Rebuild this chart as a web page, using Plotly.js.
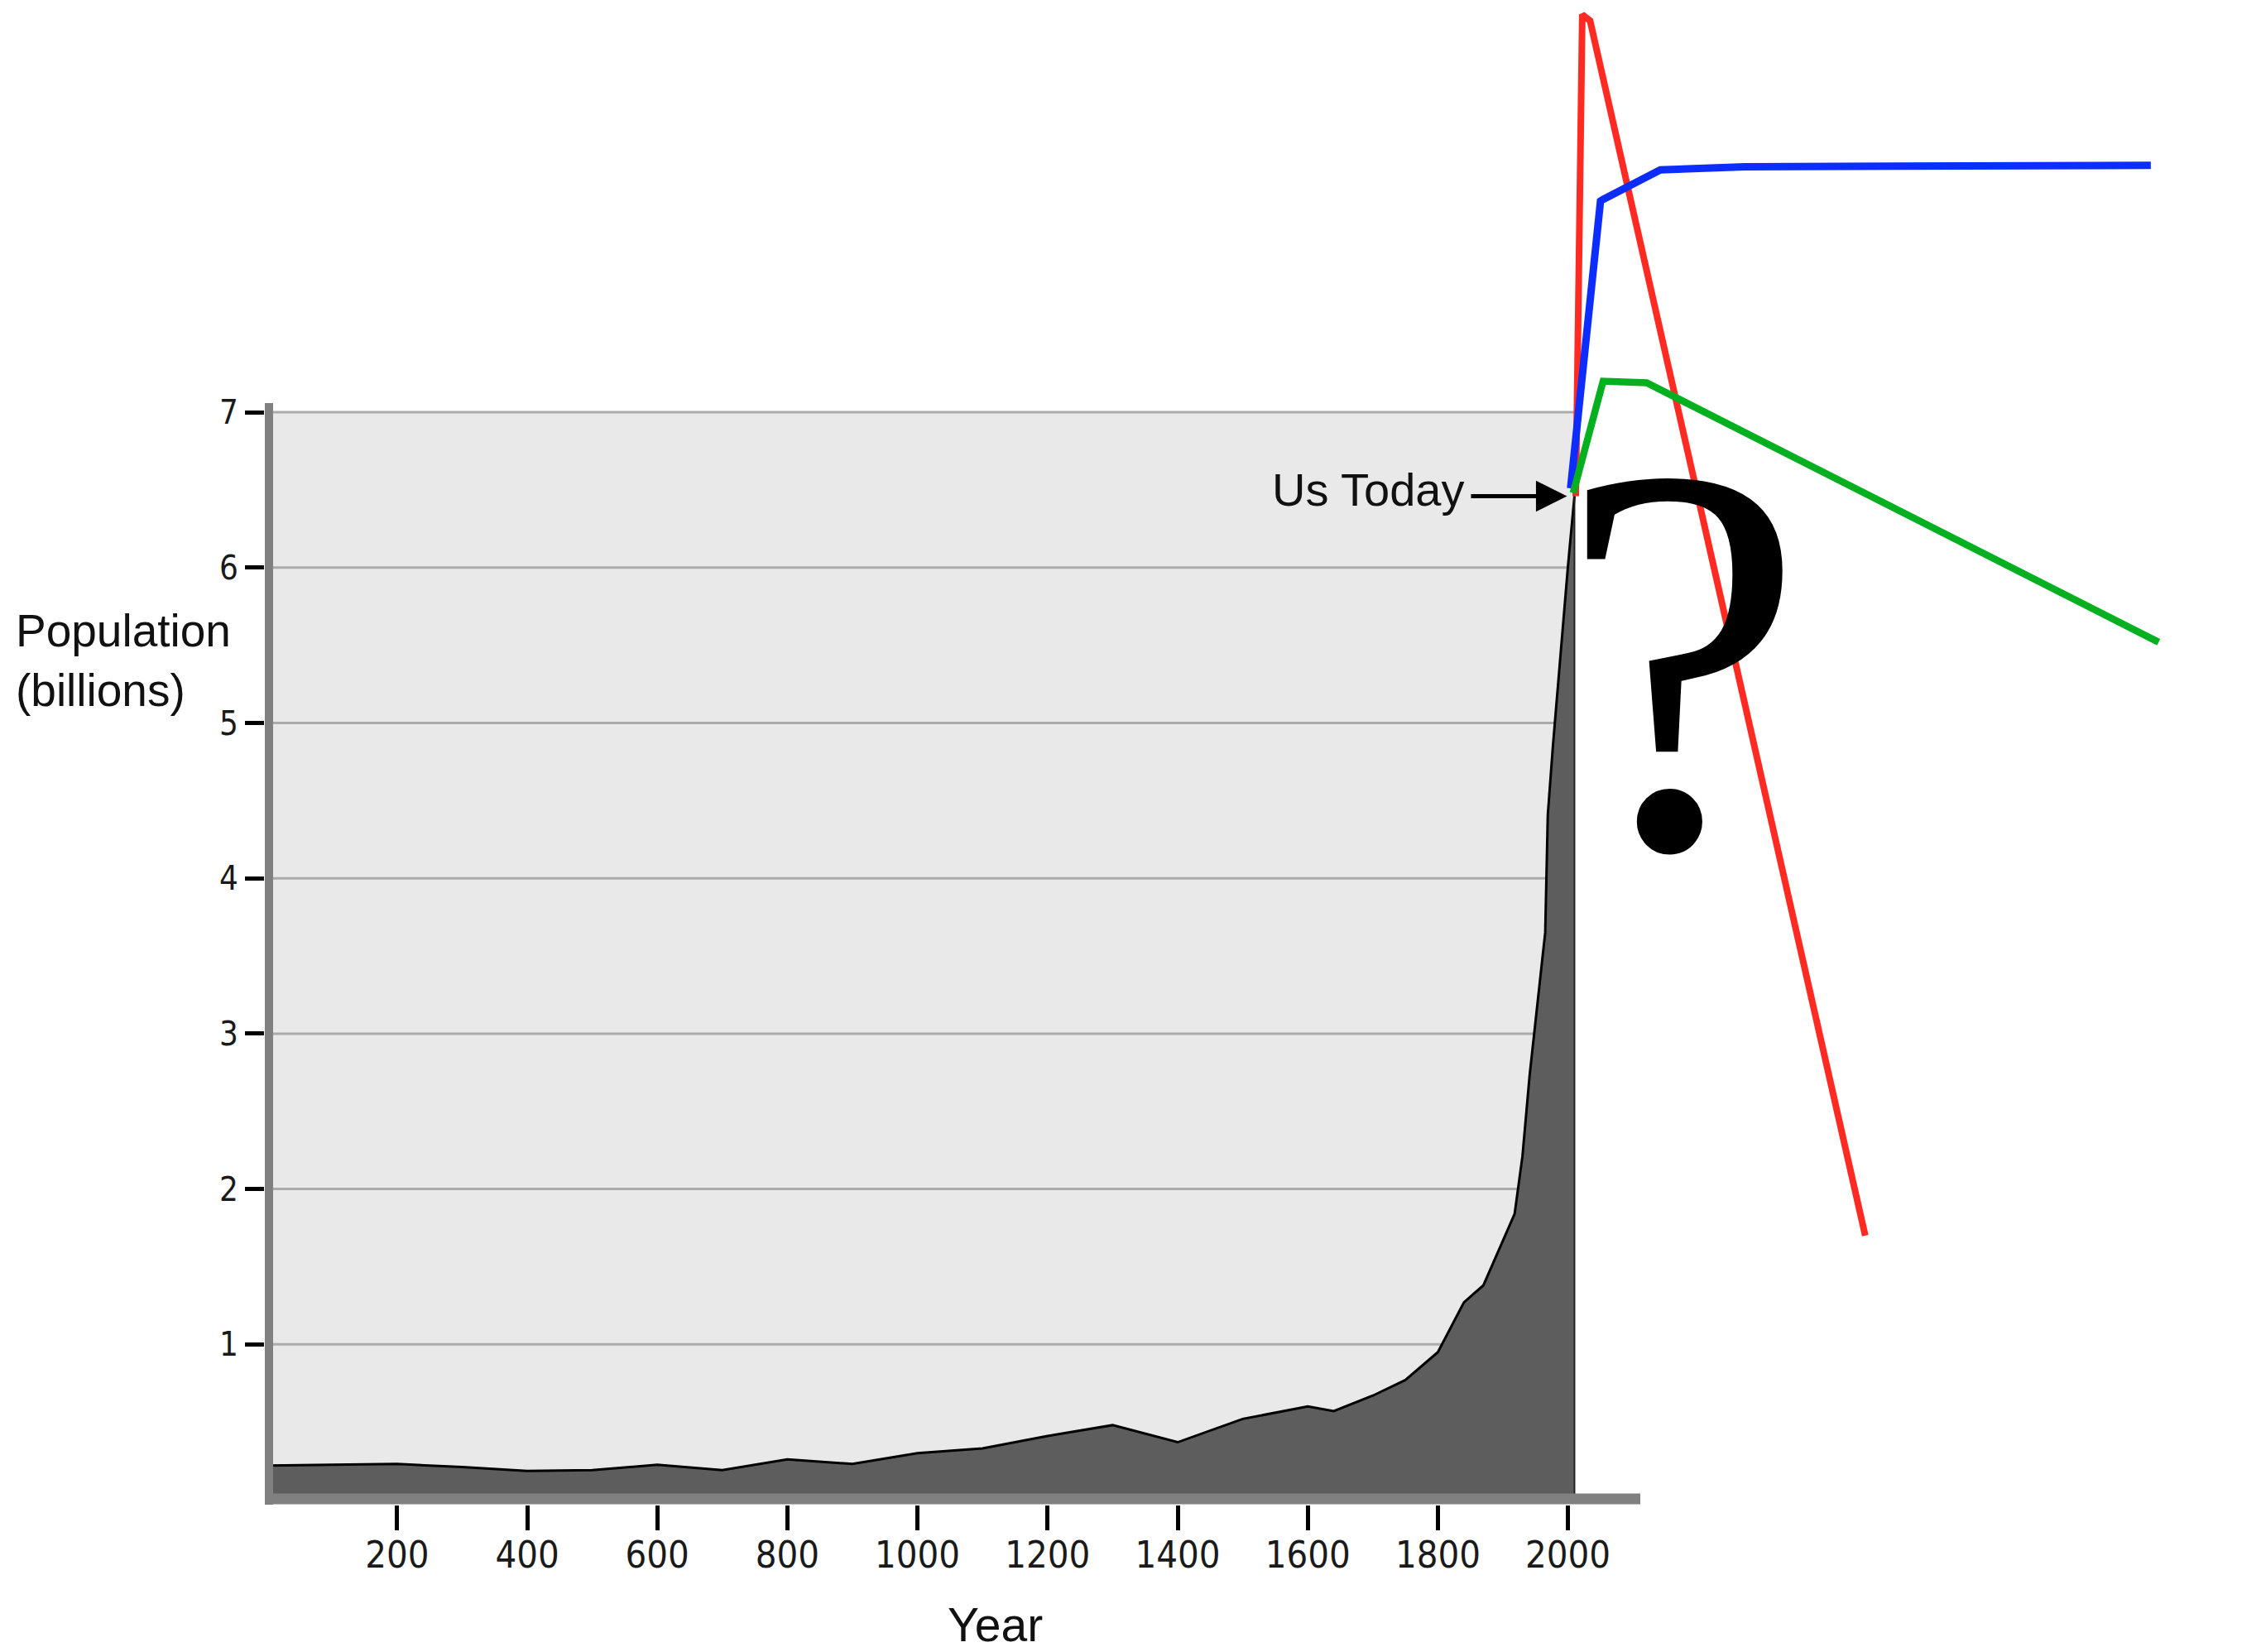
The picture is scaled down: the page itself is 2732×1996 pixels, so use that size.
<!DOCTYPE html>
<html>
<head>
<meta charset="utf-8">
<script src="https://cdn.plot.ly/plotly-3.0.1.min.js"></script>
<style>html,body{margin:0;padding:0;background:#fff;}#chart{width:2732px;height:1996px;}</style>
</head>
<body>
<div id="chart"></div>
<script>
// Historical world population (billions)
const histYears = [1, 200, 300, 400, 500, 600, 700, 800, 900, 1000, 1100, 1200, 1300, 1400, 1500, 1600, 1640, 1700, 1750, 1800, 1840, 1870, 1918, 1930, 1941, 1950, 1965, 1969, 1977, 2000, 2010];
const histPop   = [0.22, 0.23, 0.21, 0.185, 0.19, 0.225, 0.19, 0.26, 0.23, 0.30, 0.33, 0.41, 0.48, 0.37, 0.52, 0.60, 0.57, 0.67, 0.77, 0.95, 1.27, 1.38, 1.84, 2.21, 2.73, 3.08, 3.65, 4.41, 4.86, 6.01, 6.46];

// Projection scenarios
const redYears   = [2012, 2022, 2034, 2457];
const redPop     = [6.46, 9.56, 9.52, 1.70];
const blueYears  = [2004, 2050, 2054, 2142, 2272, 2896];
const bluePop    = [6.51, 8.36, 8.37, 8.56, 8.58, 8.59];
const greenYears = [2008, 2054, 2121, 2908];
const greenPop   = [6.48, 7.20, 7.19, 5.52];

// Ticks
const xTickVals = [200, 400, 600, 800, 1000, 1200, 1400, 1600, 1800, 2000];
const xTickText = ['200', '400', '600', '800', '1000', '1200', '1400', '1600', '1800', '2000'];
const yTickVals = [1, 2, 3, 4, 5, 6, 7];
const yTickText = ['1', '2', '3', '4', '5', '6', '7'];

// Labels
const yTitleText = 'Population<br>(billions)';
const xTitleText = 'Year';
const todayLabel = 'Us Today';
const questionMark = '?';

const W = 2732, H = 1996;
const pxPerYear = 0.786, x0px = 322.6;
const pxPerUnit = 187.7, y0px = 1812;
const xRange = [-x0px / pxPerYear, (W - x0px) / pxPerYear];
const yRange = [-(H - y0px) / pxPerUnit, y0px / pxPerUnit];
const yearAt = px => (px - x0px) / pxPerYear;
const valAt = py => (y0px - py) / pxPerUnit;

const nowYear = histYears[histYears.length - 1];
const nowPop = histPop[histPop.length - 1];
const topGrid = yTickVals[yTickVals.length - 1];

// font availability check via canvas measurement
const ctx = document.createElement('canvas').getContext('2d');
function hasFont(name) {
  const s = 'mmmmmmmmmmlliWW?0123456789abc';
  for (const base of ['monospace', 'serif', 'sans-serif']) {
    ctx.font = '72px ' + base;
    const w0 = ctx.measureText(s).width;
    ctx.font = '72px "' + name + '", ' + base;
    if (Math.abs(ctx.measureText(s).width - w0) > 0.5) return true;
  }
  return false;
}
function pick(list, fb) { for (const f of list) { if (hasFont(f)) return '"' + f + '"'; } return fb; }

const sans = pick(['Liberation Sans', 'Arial', 'DejaVu Sans'], 'sans-serif');
const narrow = pick(['Liberation Sans Narrow', 'Arial Narrow', 'DejaVu Sans Condensed'], sans);
const serif = pick(['Liberation Serif', 'Tinos', 'Times New Roman', 'Nimbus Roman', 'FreeSerif', 'DejaVu Serif Condensed', 'DejaVu Serif'], 'serif');

// size and place the question mark so its glyph fills the reference box
const qTop = 576, qBottom = 1033, qLeft = 1933, qRight = 2138;
ctx.font = '100px ' + serif;
const m = ctx.measureText(questionMark);
const gH = (m.actualBoundingBoxAscent + m.actualBoundingBoxDescent) / 100;
const qSize = Math.round((qBottom - qTop) / gH);
ctx.font = qSize + 'px ' + serif;
const m2 = ctx.measureText(questionMark);
const glyphMidFromStart = (m2.actualBoundingBoxRight - m2.actualBoundingBoxLeft) / 2;
const qBoxCx = (qLeft + qRight) / 2 - (glyphMidFromStart - m2.width / 2);
const baseline = qBottom - m2.actualBoundingBoxDescent;
const fA = m2.fontBoundingBoxAscent, fD = m2.fontBoundingBoxDescent;
const qBoxCy = baseline - (fA - fD) / 2;

const traces = [
  {x: histYears, y: histPop, type: 'scatter', mode: 'lines', fill: 'tozeroy',
   fillcolor: '#5d5d5d', line: {color: '#000000', width: 3}, hoverinfo: 'skip'},
  {x: redYears, y: redPop, type: 'scatter', mode: 'lines', line: {color: '#ff2a22', width: 8}, hoverinfo: 'skip'},
  {x: blueYears, y: bluePop, type: 'scatter', mode: 'lines', line: {color: '#0d2dff', width: 9}, hoverinfo: 'skip'},
  {x: greenYears, y: greenPop, type: 'scatter', mode: 'lines', line: {color: '#04b020', width: 8.5}, hoverinfo: 'skip'}
];

const shapes = [
  {type: 'rect', xref: 'x', yref: 'y', x0: 0, x1: nowYear, y0: 0, y1: topGrid,
   fillcolor: '#e9e9e9', line: {width: 0}, layer: 'below'}
];
yTickVals.forEach(v => shapes.push({type: 'line', xref: 'x', yref: 'y', x0: 0, x1: nowYear, y0: v, y1: v,
  line: {color: '#ababab', width: 3}, layer: 'below'}));
// right edge outline of the historical area
shapes.push({type: 'line', xref: 'x', yref: 'y', x0: nowYear, x1: nowYear, y0: 0, y1: nowPop,
  line: {color: '#222', width: 2}, layer: 'above'});
// axis bars
shapes.push({type: 'line', xref: 'x', yref: 'y', x0: yearAt(325), x1: yearAt(325), y0: valAt(1818), y1: valAt(487),
  line: {color: '#808080', width: 10}, layer: 'above'});
shapes.push({type: 'line', xref: 'x', yref: 'y', x0: yearAt(320), x1: yearAt(1982), y0: valAt(1811), y1: valAt(1811),
  line: {color: '#808080', width: 13}, layer: 'above'});

const annotations = [
  {text: yTitleText, xref: 'paper', yref: 'paper', x: 17 / W, y: 1 - 798 / H, xanchor: 'left', yanchor: 'middle',
   align: 'left', showarrow: false, font: {family: sans, size: 55, color: '#111'}},
  {text: xTitleText, xref: 'paper', yref: 'paper', x: 1202 / W, y: 1 - 1963 / H, xanchor: 'center', yanchor: 'middle',
   showarrow: false, font: {family: sans, size: 57, color: '#111'}},
  {text: todayLabel, xref: 'x', yref: 'y', x: nowYear, y: nowPop, xanchor: 'right', yanchor: 'middle',
   xshift: -131, yshift: 8, showarrow: false, font: {family: sans, size: 56, color: '#111'}},
  {text: ' ', xref: 'x', yref: 'y', x: nowYear, y: nowPop, showarrow: true, ax: -128, ay: 0,
   arrowhead: 2, arrowsize: 1.5, arrowwidth: 5, arrowcolor: '#000', standoff: 9, font: {size: 10}},
  {text: questionMark, xref: 'x', yref: 'y', x: yearAt(qBoxCx), y: valAt(qBoxCy), xanchor: 'center', yanchor: 'middle',
   showarrow: false, font: {family: serif, size: qSize, color: '#000'}}
];

const layout = {
  width: W, height: H,
  margin: {l: 0, r: 0, t: 0, b: 0, pad: 0},
  paper_bgcolor: '#ffffff', plot_bgcolor: '#ffffff',
  showlegend: false,
  xaxis: {range: xRange, anchor: 'free', position: 1 - 1818 / H, showgrid: false, zeroline: false, showline: false,
          tickmode: 'array', tickvals: xTickVals, ticktext: xTickText, ticks: 'outside', ticklen: 30, tickwidth: 5,
          tickcolor: '#000', ticklabelstandoff: -9, tickfont: {family: narrow, size: 45, color: '#1a1a1a'}, fixedrange: true},
  yaxis: {range: yRange, anchor: 'free', position: 319 / W, showgrid: false, zeroline: false, showline: false,
          tickmode: 'array', tickvals: yTickVals, ticktext: yTickText, ticks: 'outside', ticklen: 23, tickwidth: 5,
          tickcolor: '#000', tickfont: {family: narrow, size: 40, color: '#1a1a1a'}, fixedrange: true},
  shapes: shapes,
  annotations: annotations
};

Plotly.newPlot('chart', traces, layout, {displayModeBar: false, staticPlot: true});
</script>
</body>
</html>
